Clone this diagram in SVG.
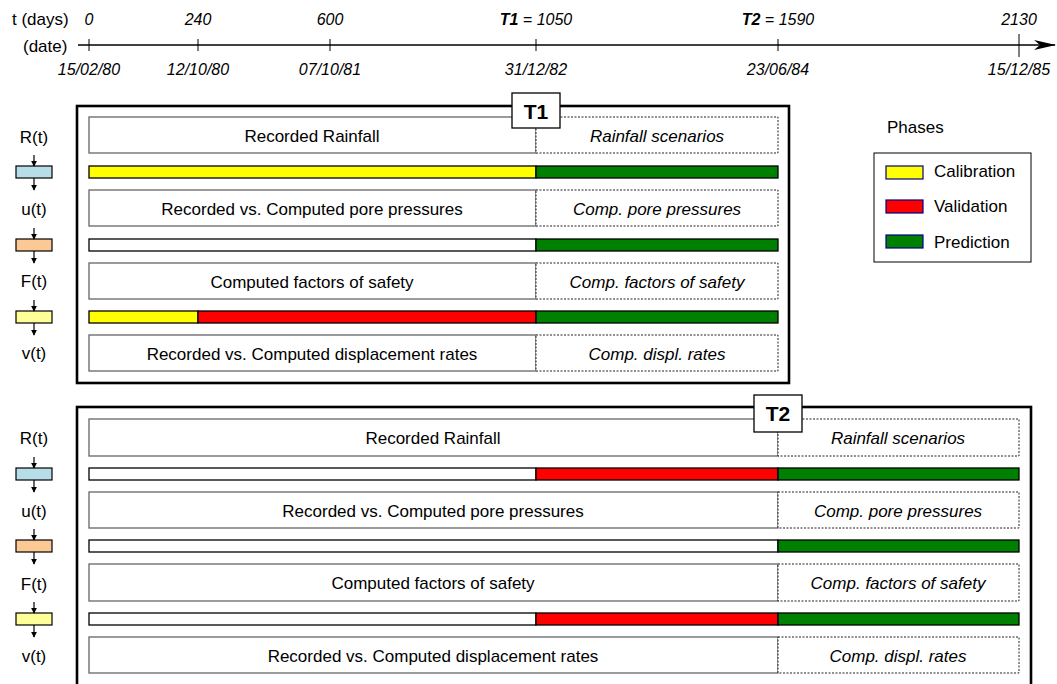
<svg xmlns="http://www.w3.org/2000/svg" width="1057" height="684" viewBox="0 0 1057 684">
<defs>
<style>
text{font-family:"Liberation Sans",Arial,sans-serif;font-size:17px;fill:#000}
.ax{font-size:16px}
.it{font-style:italic}
.c{text-anchor:middle}
.panel{fill:#fff;stroke:#000;stroke-width:2.6}
.tbox{fill:#fff;stroke:#666;stroke-width:1.3}
.dbox{fill:#fff;stroke:#222;stroke-width:1;stroke-dasharray:2,1.5}
.bar{stroke:#000;stroke-width:1.3}
.cal{fill:#ffff00}.val{fill:#ff0000}.pre{fill:#008000}.emp{fill:#fff}
.tick{stroke:#000;stroke-width:1}
.arr{stroke:#000;stroke-width:1.2;marker-end:url(#ah)}
.sw{stroke:#000080;stroke-width:1.2}
.lbl{fill:#fff;stroke:#000;stroke-width:1.3}
.tl{font-weight:bold;font-size:21px}
</style>
<marker id="ah" viewBox="0 0 8 8" refX="7" refY="4" markerWidth="6" markerHeight="6" markerUnits="userSpaceOnUse" orient="auto"><path d="M0,0 L8,4 L0,8 z" fill="#000"/></marker>
<marker id="big" viewBox="0 0 22 10" refX="21" refY="5" markerWidth="22" markerHeight="10" markerUnits="userSpaceOnUse" orient="auto"><path d="M0,0 L22,5 L0,10 L6,5 z" fill="#000"/></marker>
</defs>
<rect width="1057" height="684" fill="#fff"/>

<g id="timeline">
<line x1="78" y1="45" x2="1055" y2="45" stroke="#000" stroke-width="1.3" marker-end="url(#big)"/>
<line class="tick" x1="89" y1="39" x2="89" y2="51"/>
<line class="tick" x1="198" y1="39" x2="198" y2="51"/>
<line class="tick" x1="330" y1="39" x2="330" y2="51"/>
<line class="tick" x1="536" y1="39" x2="536" y2="51"/>
<line class="tick" x1="778" y1="39" x2="778" y2="51"/>
<line class="tick" x1="1019" y1="34" x2="1019" y2="57"/>
<text x="12" y="25">t (days)</text>
<text x="23" y="52">(date)</text>
<text class="ax it c" x="89" y="25">0</text>
<text class="ax it c" x="198" y="25">240</text>
<text class="ax it c" x="330" y="25">600</text>
<text class="ax it c" x="536" y="25"><tspan font-weight="bold">T1</tspan> = 1050</text>
<text class="ax it c" x="778" y="25"><tspan font-weight="bold">T2</tspan> = 1590</text>
<text class="ax it c" x="1019" y="25">2130</text>
<text class="ax it c" x="89" y="75">15/02/80</text>
<text class="ax it c" x="198" y="75">12/10/80</text>
<text class="ax it c" x="330" y="75">07/10/81</text>
<text class="ax it c" x="536" y="75">31/12/82</text>
<text class="ax it c" x="778" y="75">23/06/84</text>
<text class="ax it c" x="1019" y="75">15/12/85</text>
</g>

<g id="legend">
<text x="887" y="133">Phases</text>
<rect x="874" y="153" width="157" height="109" fill="#fff" stroke="#000" stroke-width="1"/>
<rect class="sw cal" x="886" y="166" width="37" height="13"/>
<rect class="sw val" x="886" y="200" width="37" height="13"/>
<rect class="sw pre" x="886" y="235" width="37" height="13"/>
<text x="934" y="177">Calibration</text>
<text x="934" y="212">Validation</text>
<text x="934" y="248">Prediction</text>
</g>

<g id="panel-T1">
<rect class="panel" x="77" y="106" width="712" height="277"/>
<rect class="tbox" x="89" y="117" width="447" height="36"/>
<rect class="dbox" x="536" y="117" width="242" height="36"/>
<text class="c" x="312" y="142">Recorded Rainfall</text>
<text class="c it" x="657" y="142">Rainfall scenarios</text>
<rect class="bar cal" x="89" y="166" width="447" height="12"/>
<rect class="bar pre" x="536" y="166" width="242" height="12"/>
<rect class="tbox" x="89" y="190" width="447" height="36"/>
<rect class="dbox" x="536" y="190" width="242" height="36"/>
<text class="c" x="312" y="215">Recorded vs. Computed pore pressures</text>
<text class="c it" x="657" y="215">Comp. pore pressures</text>
<rect class="bar emp" x="89" y="239" width="447" height="12"/>
<rect class="bar pre" x="536" y="239" width="242" height="12"/>
<rect class="tbox" x="89" y="263" width="447" height="36"/>
<rect class="dbox" x="536" y="263" width="242" height="36"/>
<text class="c" x="312" y="288">Computed factors of safety</text>
<text class="c it" x="657" y="288">Comp. factors of safety</text>
<rect class="bar cal" x="89" y="311" width="109" height="12"/>
<rect class="bar val" x="198" y="311" width="338" height="12"/>
<rect class="bar pre" x="536" y="311" width="242" height="12"/>
<rect class="tbox" x="89" y="335" width="447" height="36"/>
<rect class="dbox" x="536" y="335" width="242" height="36"/>
<text class="c" x="312" y="360">Recorded vs. Computed displacement rates</text>
<text class="c it" x="657" y="360">Comp. displ. rates</text>
<rect class="lbl" x="512" y="93" width="48" height="35"/>
<text class="c tl" x="536" y="119">T1</text>
</g>

<g id="panel-T2">
<rect class="panel" x="77" y="407" width="954" height="290"/>
<rect class="tbox" x="89" y="419" width="689" height="37"/>
<rect class="dbox" x="778" y="419" width="241" height="37"/>
<text class="c" x="433" y="444">Recorded Rainfall</text>
<text class="c it" x="898" y="444">Rainfall scenarios</text>
<rect class="bar emp" x="89" y="468" width="447" height="12"/>
<rect class="bar val" x="536" y="468" width="242" height="12"/>
<rect class="bar pre" x="778" y="468" width="241" height="12"/>
<rect class="tbox" x="89" y="492" width="689" height="36"/>
<rect class="dbox" x="778" y="492" width="241" height="36"/>
<text class="c" x="433" y="517">Recorded vs. Computed pore pressures</text>
<text class="c it" x="898" y="517">Comp. pore pressures</text>
<rect class="bar emp" x="89" y="540" width="689" height="12"/>
<rect class="bar pre" x="778" y="540" width="241" height="12"/>
<rect class="tbox" x="89" y="564" width="689" height="37"/>
<rect class="dbox" x="778" y="564" width="241" height="37"/>
<text class="c" x="433" y="589">Computed factors of safety</text>
<text class="c it" x="898" y="589">Comp. factors of safety</text>
<rect class="bar emp" x="89" y="613" width="447" height="12"/>
<rect class="bar val" x="536" y="613" width="242" height="12"/>
<rect class="bar pre" x="778" y="613" width="241" height="12"/>
<rect class="tbox" x="89" y="637" width="689" height="36"/>
<rect class="dbox" x="778" y="637" width="241" height="36"/>
<text class="c" x="433" y="662">Recorded vs. Computed displacement rates</text>
<text class="c it" x="898" y="662">Comp. displ. rates</text>
<rect class="lbl" x="754" y="395" width="48" height="37"/>
<text class="c tl" x="778" y="421">T2</text>
</g>

<g id="chain-T1">
<text class="c" x="34" y="143">R(t)</text>
<rect x="16" y="166" width="36" height="12" fill="#b7dee8" stroke="#000" stroke-width="1.2"/>
<text class="c" x="34" y="215">u(t)</text>
<rect x="16" y="239" width="36" height="12" fill="#fcc995" stroke="#000" stroke-width="1.2"/>
<text class="c" x="34" y="287">F(t)</text>
<rect x="16" y="311" width="36" height="12" fill="#ffff99" stroke="#000" stroke-width="1.2"/>
<text class="c" x="34" y="359">v(t)</text>
</g>
<g id="chain-T2">
<text class="c" x="34" y="444">R(t)</text>
<rect x="16" y="468" width="36" height="12" fill="#b7dee8" stroke="#000" stroke-width="1.2"/>
<text class="c" x="34" y="517">u(t)</text>
<rect x="16" y="540" width="36" height="12" fill="#fcc995" stroke="#000" stroke-width="1.2"/>
<text class="c" x="34" y="590">F(t)</text>
<rect x="16" y="613" width="36" height="12" fill="#ffff99" stroke="#000" stroke-width="1.2"/>
<text class="c" x="34" y="662">v(t)</text>
</g>
<g id="connectors">
<line class="arr" x1="34" y1="155" x2="34" y2="166"/>
<line class="arr" x1="34" y1="178" x2="34" y2="190"/>
<line class="arr" x1="34" y1="228" x2="34" y2="239"/>
<line class="arr" x1="34" y1="251" x2="34" y2="263"/>
<line class="arr" x1="34" y1="300" x2="34" y2="311"/>
<line class="arr" x1="34" y1="323" x2="34" y2="335"/>
<line class="arr" x1="34" y1="457" x2="34" y2="468"/>
<line class="arr" x1="34" y1="480" x2="34" y2="492"/>
<line class="arr" x1="34" y1="529" x2="34" y2="540"/>
<line class="arr" x1="34" y1="552" x2="34" y2="564"/>
<line class="arr" x1="34" y1="602" x2="34" y2="613"/>
<line class="arr" x1="34" y1="625" x2="34" y2="637"/>
</g>
</svg>
